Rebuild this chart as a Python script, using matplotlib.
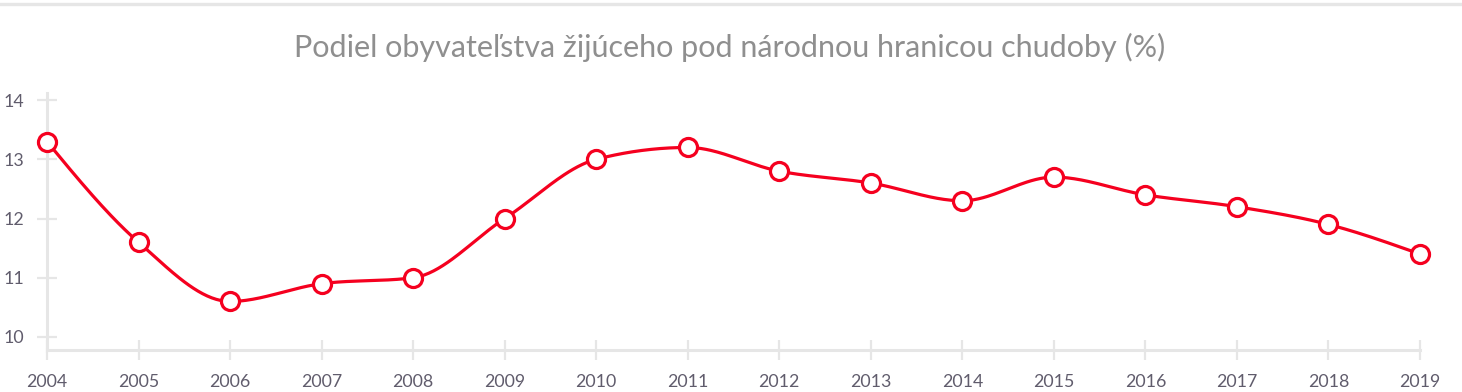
import numpy as np
import matplotlib
matplotlib.use("Agg")
import matplotlib.pyplot as plt
from matplotlib.lines import Line2D

years = [2004, 2005, 2006, 2007, 2008, 2009, 2010, 2011, 2012, 2013, 2014, 2015, 2016, 2017, 2018, 2019]
values = [13.3, 11.6, 10.6, 10.9, 11.0, 12.0, 13.0, 13.2, 12.8, 12.6, 12.3, 12.7, 12.4, 12.2, 11.9, 11.4]
y_ticks = [10, 11, 12, 13, 14]
title = "Podiel obyvateľstva žijúceho pod národnou hranicou chudoby (%)"

RED = "#f5001f"
GRID = "#e6e6e6"
LABEL = "#605c6c"
TITLE_C = "#8f8f8f"

plt.rcParams['font.family'] = ['Lato', 'DejaVu Sans']


def monotone_curve(x, y, n=40):
    x = np.asarray(x, float)
    y = np.asarray(y, float)
    m = len(x)
    h = np.diff(x)
    s = np.diff(y) / h
    t = np.zeros(m)
    for i in range(1, m - 1):
        h0, h1 = h[i - 1], h[i]
        s0, s1 = s[i - 1], s[i]
        p = (s0 * h1 + s1 * h0) / (h0 + h1)
        t[i] = (np.sign(s0) + np.sign(s1)) * min(abs(s0), abs(s1), 0.5 * abs(p))
    t[0] = (3 * s[0] - t[1]) / 2
    t[-1] = (3 * s[-1] - t[-2]) / 2
    xs, ys = [], []
    for i in range(m - 1):
        u = np.linspace(0, 1, n, endpoint=(i == m - 2))
        hh = h[i]
        h00 = 2 * u**3 - 3 * u**2 + 1
        h10 = u**3 - 2 * u**2 + u
        h01 = -2 * u**3 + 3 * u**2
        h11 = u**3 - u**2
        xs.append(x[i] + u * hh)
        ys.append(h00 * y[i] + h10 * hh * t[i] + h01 * y[i + 1] + h11 * hh * t[i + 1])
    return np.concatenate(xs), np.concatenate(ys)


W, H = 1462, 392
fig = plt.figure(figsize=(W / 100, H / 100), dpi=100)
left, right = 47 / W, 1420 / W
bottom, top = (H - 350) / H, (H - 93) / H
ax = fig.add_axes([left, bottom, right - left, top - bottom])

xs, ys = monotone_curve(years, values)
ax.plot(xs, ys, color=RED, lw=2.3, clip_on=False, zorder=3, solid_capstyle='round')
ax.plot(years, values, 'o', ms=13, mfc='white', mec=RED, mew=2.3, clip_on=False, zorder=4)

ax.set_xlim(2004, 2019)
ax.set_ylim(9.78, 14.12)
ax.set_xticks(years)
ax.set_yticks(y_ticks)
ax.set_xticklabels([str(y) for y in years])

for s in ['top', 'right']:
    ax.spines[s].set_visible(False)
for s in ['left', 'bottom']:
    ax.spines[s].set_color(GRID)
    ax.spines[s].set_linewidth(2.2)
    ax.spines[s].set_zorder(1)

ax.tick_params(axis='both', direction='inout', length=14.4, width=1.6, color=GRID,
               labelcolor=LABEL, labelsize=12.8)
ax.tick_params(axis='x', pad=10)
ax.tick_params(axis='y', pad=9.5)

# top border line
fig.add_artist(Line2D([0, 1], [1 - 3.5 / H, 1 - 3.5 / H], transform=fig.transFigure,
                      color=GRID, lw=2.4))

fig.text(730 / W, 1 - 47 / H, title, ha='center', va='center', fontsize=22, color=TITLE_C)

fig.savefig("out.png", dpi=100, facecolor='white')
